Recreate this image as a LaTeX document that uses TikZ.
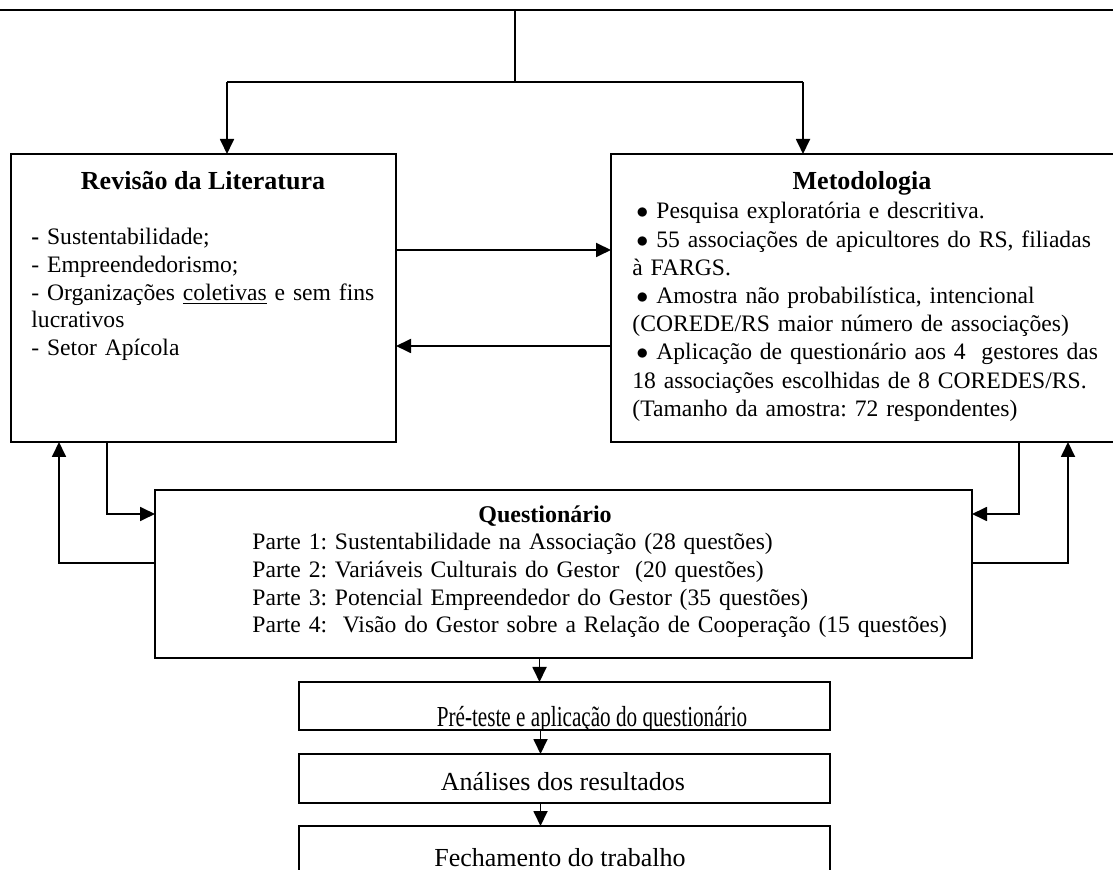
\documentclass[tikz,border=0pt]{standalone}
\usepackage{fontspec}
\setmainfont{Liberation Serif}
\usetikzlibrary{arrows.meta}
\AtBeginDocument{\frenchspacing}

\newcommand{\blt}{\hspace*{2pt}\makebox[10pt][l]{$\bullet$}}

\begin{document}
\begin{tikzpicture}[
  x=0.5pt, y=-0.5pt,
  font=\fontsize{11.8}{13.8}\selectfont,
  box/.style={draw, line width=1pt, anchor=north west, inner sep=0pt, outer sep=0pt},
  titletxt/.style={font=\fontsize{13}{15}\selectfont\bfseries, anchor=base, inner sep=0pt},
  body/.style={anchor=base west, inner sep=0pt, align=left, text width=#1},
  stepbox/.style={box, minimum width=265.5pt},
  steptxt/.style={anchor=base, inner sep=0pt, font=\fontsize{13}{15}\selectfont},
  flow/.style={-{Triangle[length=7.5pt,width=7pt]}, line width=0.9pt},
  link/.style={line width=0.9pt}
]
\useasboundingbox (0,0) rectangle (1113,870);
\clip (0,0) rectangle (1113,870);

% edge of the box above, cut by the page
\coordinate (topL) at (-10,10);
\coordinate (topR) at (1125,10);
\coordinate (topo) at (515,10);
\coordinate (split) at (515,82);
\coordinate (bL) at (227,82);
\coordinate (bR) at (803,82);
\draw[link] (topL) -- (topR);

\node[box, minimum width=192.5pt, minimum height=144pt] (revisao) at (11,154) {};
\node[titletxt] (revisaotit) at (203,190) {Revisão da Literatura};
\node[body=185pt] (revisaotxt) at (31,245)
  {\textbf{-} Sustentabilidade;\\
   - Empreendedorismo;\\
   - Organizações \underline{coletivas} e sem fins\\
   lucrativos\\
   - Setor Apícola};

\node[box, minimum width=257pt, minimum height=144pt] (metodo) at (611,154) {};
\node[titletxt] (metodotit) at (862,190) {Metodologia};
\node[body=250pt, font=\fontsize{11.8}{14.1}\selectfont] (metodotxt) at (632,219)
  {\blt Pesquisa exploratória e descritiva.\\
   \blt 55 associações de apicultores do RS, filiadas\\
   à FARGS.\\
   \blt Amostra não probabilística, intencional\\
   (COREDE/RS maior número de associações)\\
   \blt Aplicação de questionário aos 4\ \ gestores das\\
   18 associações escolhidas de 8 COREDES/RS.\\
   (Tamanho da amostra: 72 respondentes)};

\node[box, minimum width=408.5pt, minimum height=84pt] (quest) at (155,490) {};
\node[titletxt, font=\fontsize{12}{13.8}\selectfont\bfseries] (questtit) at (545,523) {Questionário};
\node[body=380pt] (questtxt) at (252,550)
  {Parte 1: Sustentabilidade na Associação (28 questões)\\
   Parte 2: Variáveis Culturais do Gestor\ \ (20 questões)\\
   Parte 3: Potencial Empreendedor do Gestor (35 questões)\\
   Parte 4:\ \ Visão do Gestor sobre a Relação de Cooperação (15 questões)};

\node[stepbox, minimum height=24pt] (preteste) at (299,682) {};
\begin{scope}
  \clip (preteste.north west) rectangle (preteste.south east);
  \node[steptxt, font=\fontsize{14.5}{16}\selectfont] (pretestetxt) at (592,726)
    {\scalebox{0.73}[1]{Pré-teste e aplicação do questionário}};
\end{scope}
\node[stepbox, minimum height=24.5pt] (analises) at (299,754) {};
\node[steptxt] (analisestxt) at (563,790) {Análises dos resultados};
\node[stepbox, minimum height=40pt] (fecha) at (299,826) {};
\node[steptxt] (fechatxt) at (560,866) {Fechamento do trabalho};

\draw[link] (topo) -- (split);
\draw[link] (bL) -- (bR);
\draw[flow] (bL) -- (bL |- revisao.north);
\draw[flow] (bR) -- (bR |- metodo.north);

\draw[flow] ([yshift=24pt]revisao.east) -- ([yshift=24pt]metodo.west);
\draw[flow] ([yshift=-24pt]metodo.west) -- ([yshift=-24pt]revisao.east);

\draw[flow] ([xshift=48pt]revisao.south west) |- ([yshift=30pt]quest.west);
\draw[flow] ([yshift=5.5pt]quest.west) -| ([xshift=24pt]revisao.south west);
\draw[flow] ([xshift=204pt]metodo.south west) |- ([yshift=30pt]quest.east);
\draw[flow] ([yshift=5.5pt]quest.east) -| ([xshift=228.5pt]metodo.south west);

\draw[flow] ([xshift=-12pt]quest.south) -- ([xshift=-12.5pt]preteste.north);
\draw[flow] ([xshift=-12pt]preteste.south) -- ([xshift=-12pt]analises.north);
\draw[flow] ([xshift=-12pt]analises.south) -- ([xshift=-12pt]fecha.north);

\end{tikzpicture}
\end{document}
